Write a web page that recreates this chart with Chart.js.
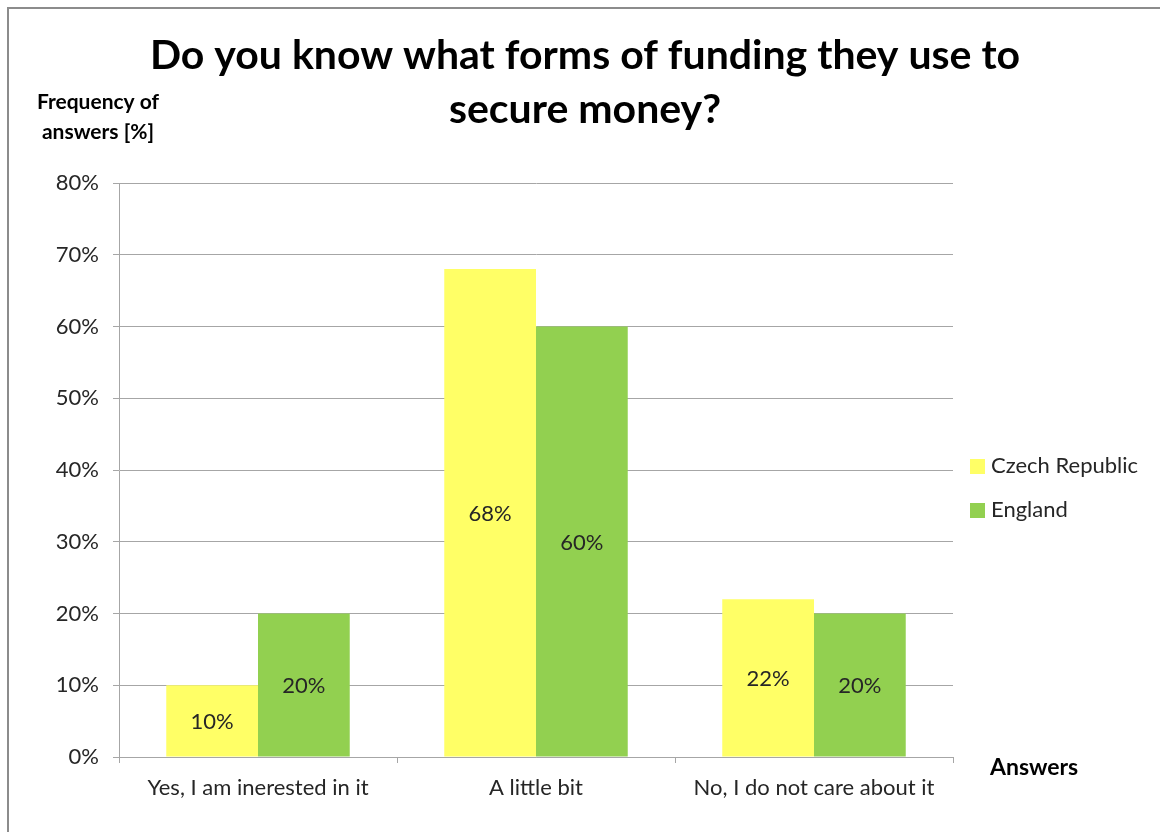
<!DOCTYPE html>
<html>
<head>
<meta charset="utf-8">
<script src="https://cdn.jsdelivr.net/npm/chart.js@4/dist/chart.umd.min.js"></script>
<style>
  html, body { margin: 0; padding: 0; background: #fff; }
  #wrap { position: relative; width: 1160px; height: 832px; }
</style>
</head>
<body>
<div id="wrap"><canvas id="fundingChart" width="1160" height="832"></canvas></div>
<script>
// Survey: knowledge of funding forms, Czech Republic vs England

const categories = ['Yes, I am inerested in it', 'A little bit', 'No, I do not care about it'];
const czechValues = [10, 68, 22];
const englandValues = [20, 60, 20];
const yTicks = [0, 10, 20, 30, 40, 50, 60, 70, 80];

const titleLines = ['Do you know what forms of funding they use to', 'secure money?'];
const yTitleLines = ['Frequency of', 'answers [%]'];
const xTitle = 'Answers';

const FONT = 'Lato, "Open Sans", sans-serif';
const gridColor = '#a6a6a6';
const textColor = '#262626';

// titles, axis captions, legend, bar value labels and the outer frame
const decorPlugin = {
    id: 'decor',
    afterDraw(chart) {
        const c = chart.ctx;
        c.save();

        // outer frame (left + top edges)
        c.strokeStyle = '#8c8c8c';
        c.lineWidth = 2;
        c.beginPath();
        c.moveTo(8, 832);
        c.lineTo(8, 8);
        c.lineTo(1160, 8);
        c.stroke();

        // main title
        c.fillStyle = '#000';
        c.textAlign = 'center';
        c.textBaseline = 'middle';
        c.font = 'bold 41px ' + FONT;
        titleLines.forEach((line, i) => c.fillText(line, 585, 56 + i * 54));

        // y axis caption
        c.font = 'bold 21px ' + FONT;
        yTitleLines.forEach((line, i) => c.fillText(line, 98, 102 + i * 30));

        // x axis caption
        c.textAlign = 'left';
        c.font = 'bold 23px ' + FONT;
        c.fillText(xTitle, 990, 768);

        // legend
        c.font = '22px ' + FONT;
        chart.data.datasets.forEach((ds, i) => {
            const y = 466 + i * 44;
            c.fillStyle = ds.backgroundColor;
            c.fillRect(970, y - 7, 15, 15);
            c.fillStyle = textColor;
            c.fillText(ds.label, 991, y);
        });

        // values inside bars
        c.textAlign = 'center';
        c.font = '22px ' + FONT;
        c.fillStyle = textColor;
        chart.data.datasets.forEach((ds, di) => {
            chart.getDatasetMeta(di).data.forEach((bar, i) => {
                c.fillText(ds.data[i] + '%', bar.x, (bar.y + bar.base) / 2 + 1);
            });
        });

        c.restore();
    }
};

new Chart(document.getElementById('fundingChart'), {
    type: 'bar',
    data: {
        labels: categories,
        datasets: [
            { label: 'Czech Republic', data: czechValues, backgroundColor: '#ffff66' },
            { label: 'England', data: englandValues, backgroundColor: '#92d050' }
        ]
    },
    options: {
        responsive: false,
        animation: false,
        devicePixelRatio: 1,
        layout: { padding: { left: 0, right: 207, top: 183, bottom: 0 } },
        datasets: {
            bar: { categoryPercentage: 0.66, barPercentage: 1.0, borderWidth: 0 }
        },
        scales: {
            x: {
                afterFit: scale => { scale.height = 75; },
                grid: {
                    offset: true,
                    drawOnChartArea: false,
                    drawTicks: true,
                    tickLength: 6,
                    color: gridColor
                },
                border: { color: gridColor, width: 1 },
                ticks: {
                    color: textColor,
                    font: { family: FONT, size: 22 },
                    padding: 12,
                    maxRotation: 0
                }
            },
            y: {
                min: 0,
                max: 80,
                afterFit: scale => { scale.width = 119; },
                afterBuildTicks: scale => { scale.ticks = yTicks.map(v => ({ value: v })); },
                grid: { color: gridColor, tickLength: 6, lineWidth: 1 },
                border: { color: gridColor, width: 1 },
                ticks: {
                    color: textColor,
                    font: { family: FONT, size: 22 },
                    padding: 14,
                    callback: v => v + '%'
                }
            }
        },
        plugins: {
            legend: { display: false },
            tooltip: { enabled: false }
        }
    },
    plugins: [decorPlugin]
});
</script>
</body>
</html>
